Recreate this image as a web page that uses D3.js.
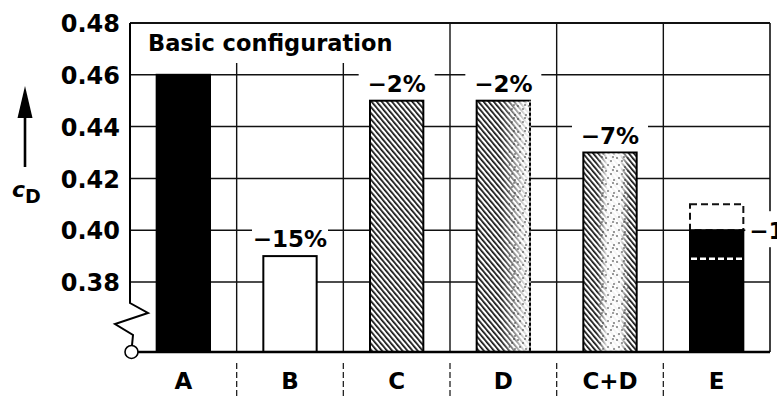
<!DOCTYPE html>
<html>
<head>
<meta charset="utf-8">
<script src="https://cdn.jsdelivr.net/npm/d3@7"></script>
<style>
  html, body { margin: 0; padding: 0; background: #fff; }
  svg { display: block; }
  text { font-family: "DejaVu Sans", sans-serif; }
</style>
</head>
<body>
<div id="chart"></div>
<script>
// ---- data ----
const categories = ["A", "B", "C", "D", "C+D", "E"];
const cdValues = [0.46, 0.39, 0.45, 0.45, 0.43, 0.40];
const changeLabels = ["", "\u221215%", "\u22122%", "\u22122%", "\u22127%", "\u221213%"];
const fills = ["solid", "empty", "hatch", "hatchFadeRight", "hatchFadeMiddle", "solid"];
const ePotential = 0.41;      // dashed outline above E
const eInner = 0.389;         // white dashed line inside E
const yTicks = [0.38, 0.40, 0.42, 0.44, 0.46, 0.48];
const yTop = 0.48;
const yBreakBase = 0.353;     // value represented at the (broken) baseline
const baseTitle = "Basic configuration";

// ---- layout ----
const W = 777, H = 404;
const left = 130, right = 770;
const svg = d3.select("#chart").append("svg").attr("width", W).attr("height", H);
svg.append("rect").attr("width", W).attr("height", H).attr("fill", "#fff");

const y = d3.scaleLinear().domain([0.38, 0.48]).range([282, 23]);
const x = d3.scaleBand().domain(categories).range([left, right]).padding(0);
const bw = x.bandwidth() * 0.5;
const yBase = y(yBreakBase);

// patterns
const defs = svg.append("defs");
const hatch = defs.append("pattern").attr("id", "hatch").attr("patternUnits", "userSpaceOnUse")
  .attr("width", 3.9).attr("height", 10).attr("patternTransform", "rotate(-40)");
hatch.append("rect").attr("width", 3.9).attr("height", 10).attr("fill", "#fff");
hatch.append("rect").attr("x", 0).attr("width", 1.7).attr("height", 10).attr("fill", "#111");

const dots = defs.append("pattern").attr("id", "dots").attr("patternUnits", "userSpaceOnUse")
  .attr("width", 11).attr("height", 13);
[[1,2],[6,5],[3,9],[9,11],[8,1]].forEach(([cx, cy]) =>
  dots.append("circle").attr("cx", cx).attr("cy", cy).attr("r", 0.8).attr("fill", "#222"));

const gR = defs.append("linearGradient").attr("id", "fadeR");
gR.append("stop").attr("offset", "0.45").attr("stop-color", "#fff").attr("stop-opacity", 0);
gR.append("stop").attr("offset", "0.95").attr("stop-color", "#fff").attr("stop-opacity", 0.9);
const gM = defs.append("linearGradient").attr("id", "fadeM");
gM.append("stop").attr("offset", "0.25").attr("stop-color", "#fff").attr("stop-opacity", 0);
gM.append("stop").attr("offset", "0.45").attr("stop-color", "#fff").attr("stop-opacity", 0.95);
gM.append("stop").attr("offset", "0.7").attr("stop-color", "#fff").attr("stop-opacity", 0.95);
gM.append("stop").attr("offset", "0.88").attr("stop-color", "#fff").attr("stop-opacity", 0);

// ---- horizontal grid lines ----
svg.append("g").selectAll("line").data(yTicks).join("line")
  .attr("x1", left).attr("x2", right)
  .attr("y1", d => y(d)).attr("y2", d => y(d))
  .attr("stroke", "#111").attr("stroke-width", d => d === yTop ? 2 : 1.5);

// right border
svg.append("line").attr("x1", right).attr("x2", right).attr("y1", y(yTop)).attr("y2", yBase)
  .attr("stroke", "#111").attr("stroke-width", 1.6);

// ---- label backgrounds ----
const titleBox = { x0: left + 2, x1: 402, y1: 63 };
svg.append("rect").attr("x", titleBox.x0).attr("y", y(yTop) + 1.5)
  .attr("width", titleBox.x1 - titleBox.x0).attr("height", titleBox.y1 - y(yTop) - 1.5).attr("fill", "#fff");

const labelData = categories.map((c, i) => ({ c, v: cdValues[i], t: changeLabels[i], i }))
  .filter(d => d.t !== "");
const lbl = svg.append("g");
const lblText = labelData.map(d => {
  const isE = d.c === "E";
  const tx = isE ? x(d.c) + x.bandwidth() / 2 + bw / 2 + 6 : x(d.c) + x.bandwidth() / 2;
  const ty = isE ? y(d.v) + 9 : y(d.v) - 9;
  return { ...d, tx, ty, isE };
});
lbl.selectAll("rect").data(lblText).join("rect")
  .attr("x", d => d.isE ? d.tx - 4 : d.tx - 38)
  .attr("width", d => d.isE ? 40 : 76)
  .attr("y", d => d.isE ? d.ty - 28 : d.ty - 22)
  .attr("height", d => d.isE ? 36 : 27)
  .attr("fill", "#fff");

// ---- vertical grid lines at category boundaries ----
const bounds = categories.slice(1).map(c => x(c));
svg.append("g").selectAll("line").data(bounds).join("line")
  .attr("x1", d => d).attr("x2", d => d)
  .attr("y1", d => d < titleBox.x1 ? titleBox.y1 : y(yTop))
  .attr("y2", yBase)
  .attr("stroke", "#111").attr("stroke-width", 1.4);

// dashed separators below the axis
svg.append("g").selectAll("line").data(bounds).join("line")
  .attr("x1", d => d).attr("x2", d => d)
  .attr("y1", yBase + 11).attr("y2", yBase + 45)
  .attr("stroke", "#222").attr("stroke-width", 1.3).attr("stroke-dasharray", "6,3");

// ---- bars ----
const bars = svg.append("g");
categories.forEach((c, i) => {
  const bx = x(c) + (x.bandwidth() - bw) / 2;
  const by = y(cdValues[i]);
  const bh = yBase - by;
  const f = fills[i];
  const g = bars.append("g");
  if (c === "E") {
    // dashed potential outline
    g.append("rect").attr("x", bx).attr("y", y(ePotential)).attr("width", bw)
      .attr("height", by - y(ePotential)).attr("fill", "#fff")
      .attr("stroke", "#111").attr("stroke-width", 2).attr("stroke-dasharray", "7,4");
  }
  g.append("rect").attr("x", bx).attr("y", by).attr("width", bw).attr("height", bh)
    .attr("fill", f === "solid" ? "#000" : f === "empty" ? "#fff" : "url(#hatch)")
    .attr("stroke", "#000").attr("stroke-width", 2);
  if (f === "hatchFadeRight" || f === "hatchFadeMiddle") {
    const grad = f === "hatchFadeRight" ? "url(#fadeR)" : "url(#fadeM)";
    g.append("rect").attr("x", bx + 1).attr("y", by + 1).attr("width", bw - 2).attr("height", bh - 2)
      .attr("fill", grad);
    const dx0 = f === "hatchFadeRight" ? bx + bw * 0.6 : bx + bw * 0.3;
    const dx1 = f === "hatchFadeRight" ? bx + bw - 1 : bx + bw * 0.85;
    g.append("rect").attr("x", dx0).attr("y", by + 2).attr("width", dx1 - dx0).attr("height", bh - 4)
      .attr("fill", "url(#dots)");
  }
  if (f === "hatchFadeRight") {
    g.append("line").attr("x1", bx + bw).attr("x2", bx + bw).attr("y1", by).attr("y2", yBase)
      .attr("stroke", "#fff").attr("stroke-width", 1.2).attr("stroke-dasharray", "2,3");
  }
  if (c === "E") {
    g.append("line").attr("x1", bx + 1).attr("x2", bx + bw - 1).attr("y1", y(eInner)).attr("y2", y(eInner))
      .attr("stroke", "#fff").attr("stroke-width", 2.5).attr("stroke-dasharray", "6,3");
  }
});

// ---- baseline & broken axis ----
svg.append("line").attr("x1", left + 7).attr("x2", right).attr("y1", yBase).attr("y2", yBase)
  .attr("stroke", "#000").attr("stroke-width", 2.6);
const zig = d3.path();
zig.moveTo(left, y(yTop));
zig.lineTo(left, 303);
zig.lineTo(left + 18, 313);
zig.lineTo(left - 15, 324);
zig.lineTo(left + 3, 335);
zig.lineTo(left + 2, yBase - 6.5);
svg.append("path").attr("d", zig.toString()).attr("fill", "none")
  .attr("stroke", "#000").attr("stroke-width", 2).attr("stroke-linejoin", "miter");
svg.append("circle").attr("cx", left + 1.5).attr("cy", yBase).attr("r", 6.5)
  .attr("fill", "#fff").attr("stroke", "#000").attr("stroke-width", 1.6);

// ---- axes (tick labels) ----
const yAxis = svg.append("g").attr("transform", `translate(${left},0)`)
  .call(d3.axisLeft(y).tickValues(yTicks).tickFormat(d3.format(".2f")).tickSize(0).tickPadding(10));
yAxis.select(".domain").remove();
yAxis.selectAll("text").attr("font-family", "DejaVu Sans").attr("font-weight", "bold")
  .attr("font-size", 24).attr("fill", "#000").attr("dy", "0.36em");

const xAxis = svg.append("g").attr("transform", `translate(0,${yBase})`)
  .call(d3.axisBottom(x).tickSize(0).tickPadding(21));
xAxis.select(".domain").remove();
xAxis.selectAll("text").attr("font-family", "DejaVu Sans").attr("font-weight", "bold")
  .attr("font-size", 23).attr("fill", "#000");

// ---- change labels ----
lbl.selectAll("text").data(lblText).join("text")
  .attr("x", d => d.tx).attr("y", d => d.ty)
  .attr("text-anchor", d => d.isE ? "start" : "middle")
  .attr("font-weight", "bold").attr("font-size", 23).attr("fill", "#000")
  .text(d => d.t);

// ---- title ----
svg.append("text").attr("x", 148).attr("y", 51)
  .attr("font-weight", "bold").attr("font-size", 22.5).attr("fill", "#000")
  .text(baseTitle);

// ---- y label with arrow ----
svg.append("line").attr("x1", 25).attr("x2", 25).attr("y1", 110).attr("y2", 167)
  .attr("stroke", "#000").attr("stroke-width", 2.6);
svg.append("path").attr("d", "M25,86 L32.5,118 L17.5,118 Z").attr("fill", "#000");
const yl = svg.append("text").attr("x", 12).attr("y", 197).attr("fill", "#000");
yl.append("tspan").attr("font-style", "italic").attr("font-weight", "bold").attr("font-size", 22).text("c");
yl.append("tspan").attr("font-weight", "bold").attr("font-size", 19).attr("dy", 6).text("D");
</script>
</body>
</html>
